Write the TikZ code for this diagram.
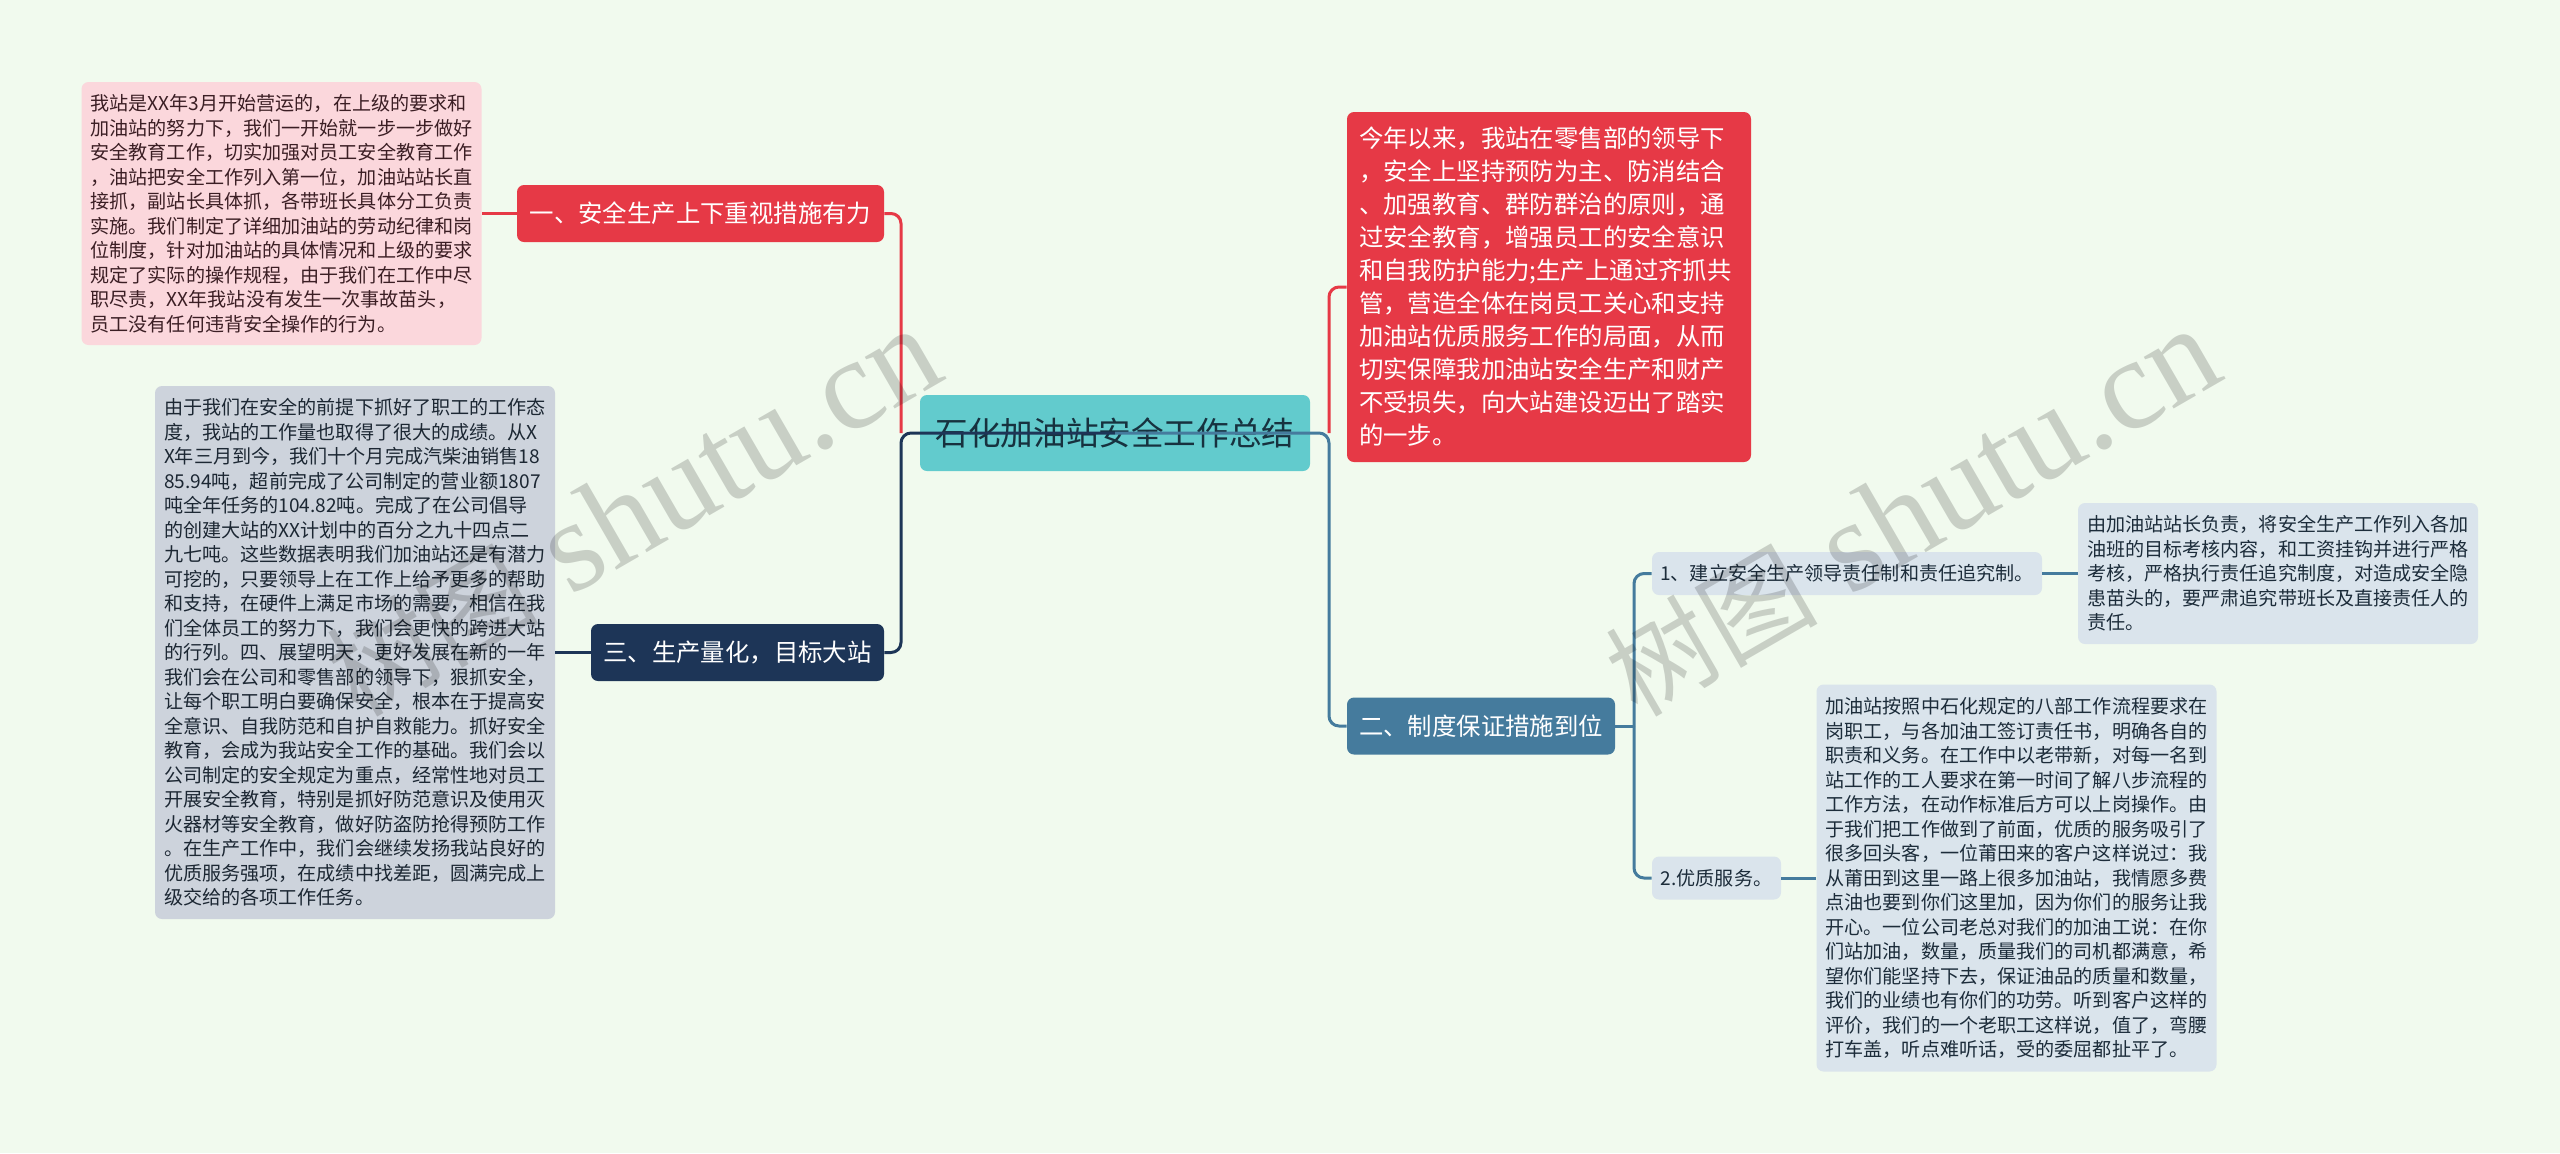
\documentclass[tikz,border=0pt]{standalone}
\usepackage{fontspec}
\newfontfamily\cjk{Noto Sans CJK SC}
\newfontfamily\markfont{Liberation Serif}
\definecolor{pagebg}{HTML}{F1FAEE}
\definecolor{rootfill}{HTML}{62CBCD}
\definecolor{rootink}{HTML}{17323F}
\definecolor{redfill}{HTML}{E63946}
\definecolor{bluefill}{HTML}{457B9D}
\definecolor{navyfill}{HTML}{1D3557}
\definecolor{pinkfill}{HTML}{FBD7DC}
\definecolor{pinkink}{HTML}{3B1E24}
\definecolor{greyfill}{HTML}{CDD3DC}
\definecolor{greyink}{HTML}{1C2733}
\definecolor{mistfill}{HTML}{DAE4EC}
\definecolor{mistink}{HTML}{1C2C3A}
\tikzset{
  box/.style={draw=none, rectangle, rounded corners=3.5pt, inner sep=0pt},
  rootbox/.style={box, fill=rootfill, text=rootink, font=\cjk\fontsize{16.3}{20}\selectfont, minimum width=195pt, minimum height=38pt},
  branch/.style={box, text=white, font=\cjk\fontsize{12.2}{16.5}\selectfont, minimum height=28.5pt},
  leaf/.style={box, font=\cjk\fontsize{9.55}{12.25}\selectfont, align=left, text width=191pt, minimum width=200pt},
  small/.style={box, fill=mistfill, text=mistink, font=\cjk\fontsize{9.55}{12.25}\selectfont, minimum height=21.5pt},
  joint/.style={inner sep=0pt, minimum size=0pt},
  link/.style={line width=1.5pt, rounded corners=5pt},
  watermark/.style={rotate=30, anchor=base east, inner sep=0pt, text=black, text opacity=0.17, font=\markfont\fontsize{65}{65}\selectfont}
}
\begin{document}
\begin{tikzpicture}
  \fill [pagebg] (0pt,0pt) rectangle (1280pt,-576.5pt);
  \useasboundingbox (0pt,0pt) rectangle (1280pt,-576.5pt);
  \node (root) at (557.5pt,-216.5pt) [rootbox] {石化加油站安全工作总结};
  \node (safety) [branch, fill=redfill, minimum width=183.5pt, node distance=207.25pt, left of=root, yshift=109.75pt] {一、安全生产上下重视措施有力};
  \node (goal) [branch, fill=navyfill, minimum width=146.5pt, node distance=188.75pt, left of=root, yshift=-109.75pt] {三、生产量化，目标大站};
  \node (intro) [box, fill=redfill, text=white, font=\cjk\fontsize{12.2}{16.5}\selectfont, align=left, text width=190pt, minimum width=202pt, minimum height=175pt, node distance=217pt, right of=root, yshift=73pt] {今年以来，我站在零售部的领导下\\，安全上坚持预防为主、防消结合\\、加强教育、群防群治的原则，通\\过安全教育，增强员工的安全意识\\和自我防护能力;生产上通过齐抓共\\管，营造全体在岗员工关心和支持\\加油站优质服务工作的局面，从而\\切实保障我加油站安全生产和财产\\不受损失，向大站建设迈出了踏实\\的一步。};
  \node (system) [branch, fill=bluefill, minimum width=134pt, node distance=183pt, right of=root, yshift=-146.5pt] {二、制度保证措施到位};
  \node (safetytext) [leaf, fill=pinkfill, text=pinkink, minimum height=131.5pt, node distance=209.5pt, left of=safety] {我站是XX年3月开始营运的，在上级的要求和\\加油站的努力下，我们一开始就一步一步做好\\安全教育工作，切实加强对员工安全教育工作\\，油站把安全工作列入第一位，加油站站长直\\接抓，副站长具体抓，各带班长具体分工负责\\实施。我们制定了详细加油站的劳动纪律和岗\\位制度，针对加油站的具体情况和上级的要求\\规定了实际的操作规程，由于我们在工作中尽\\职尽责，XX年我站没有发生一次事故苗头，\\员工没有任何违背安全操作的行为。};
  \node (goaltext) [leaf, fill=greyfill, text=greyink, minimum height=266.5pt, node distance=191.25pt, left of=goal] {由于我们在安全的前提下抓好了职工的工作态\\度，我站的工作量也取得了很大的成绩。从X\\X年三月到今，我们十个月完成汽柴油销售18\\85.94吨，超前完成了公司制定的营业额1807\\吨全年任务的104.82吨。完成了在公司倡导\\的创建大站的XX计划中的百分之九十四点二\\九七吨。这些数据表明我们加油站还是有潜力\\可挖的，只要领导上在工作上给予更多的帮助\\和支持，在硬件上满足市场的需要，相信在我\\们全体员工的努力下，我们会更快的跨进大站\\的行列。四、展望明天，更好发展在新的一年\\我们会在公司和零售部的领导下，狠抓安全，\\让每个职工明白要确保安全，根本在于提高安\\全意识、自我防范和自护自救能力。抓好安全\\教育，会成为我站安全工作的基础。我们会以\\公司制定的安全规定为重点，经常性地对员工\\开展安全教育，特别是抓好防范意识及使用灭\\火器材等安全教育，做好防盗防抢得预防工作\\。在生产工作中，我们会继续发扬我站良好的\\优质服务强项，在成绩中找差距，圆满完成上\\级交给的各项工作任务。};
  \node (duty) [small, minimum width=195pt, node distance=183pt, right of=system, yshift=76.25pt] {1、建立安全生产领导责任制和责任追究制。};
  \node (service) [small, minimum width=64.5pt, node distance=117.75pt, right of=system, yshift=-76pt] {2.优质服务。};
  \node (dutytext) [leaf, fill=mistfill, text=mistink, minimum height=70.5pt, node distance=215.5pt, right of=duty] {由加油站站长负责，将安全生产工作列入各加\\油班的目标考核内容，和工资挂钩并进行严格\\考核，严格执行责任追究制度，对造成安全隐\\患苗头的，要严肃追究带班长及直接责任人的\\责任。};
  \node (servicetext) [leaf, fill=mistfill, text=mistink, minimum height=193.5pt, node distance=150pt, right of=service] {加油站按照中石化规定的八部工作流程要求在\\岗职工，与各加油工签订责任书，明确各自的\\职责和义务。在工作中以老带新，对每一名到\\站工作的工人要求在第一时间了解八步流程的\\工作方法，在动作标准后方可以上岗操作。由\\于我们把工作做到了前面，优质的服务吸引了\\很多回头客，一位莆田来的客户这样说过：我\\从莆田到这里一路上很多加油站，我情愿多费\\点油也要到你们这里加，因为你们的服务让我\\开心。一位公司老总对我们的加油工说：在你\\们站加油，数量，质量我们的司机都满意，希\\望你们能坚持下去，保证油品的质量和数量，\\我们的业绩也有你们的功劳。听到客户这样的\\评价，我们的一个老职工这样说，值了，弯腰\\打车盖，听点难听话，受的委屈都扯平了。};
  \node (leftjoin) [joint, node distance=107pt, left of=root] {};
  \node (rightjoin) [joint, node distance=107pt, right of=root] {};
  \node (systemjoin) [joint, node distance=76.5pt, right of=system] {};
  \draw [link, redfill] (safety.east) -| (leftjoin.center);
  \draw [link, redfill] (intro.west) -| (rightjoin.center);
  \draw [link, navyfill] (goal.east) -| (leftjoin.center) -- (root.center);
  \draw [link, bluefill] (system.west) -| (rightjoin.center) -- (root.center);
  \draw [link, redfill] (safety.west) -- (safetytext.east);
  \draw [link, navyfill] (goal.west) -- (goaltext.east);
  \draw [link, bluefill] (system.east) -- (systemjoin.center);
  \draw [link, bluefill] (duty.west) -| (systemjoin.center);
  \draw [link, bluefill] (service.west) -| (systemjoin.center);
  \draw [link, bluefill] (duty.east) -- (dutytext.west);
  \draw [link, bluefill] (service.east) -- (servicetext.west);
  \node (markleft) at (474.5pt,-189pt) [watermark] {{\cjk\fontsize{53}{53}\selectfont 树图} shutu.cn};
  \node (markright) at (1114pt,-189pt) [watermark] {{\cjk\fontsize{53}{53}\selectfont 树图} shutu.cn};
\end{tikzpicture}
\end{document}
